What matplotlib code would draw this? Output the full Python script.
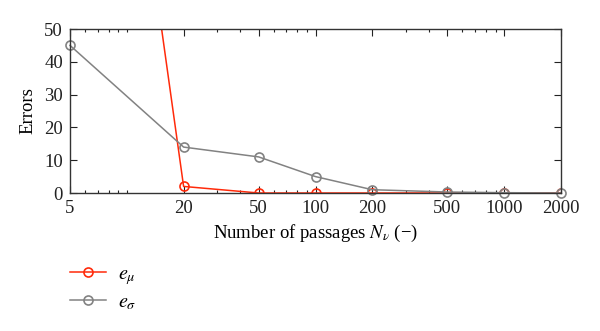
import matplotlib
matplotlib.use("Agg")
import matplotlib.pyplot as plt
from matplotlib.ticker import FixedLocator, FixedFormatter, LogLocator, NullFormatter

plt.rcParams['font.family'] = ['Liberation Serif', 'DejaVu Serif']
plt.rcParams['mathtext.fontset'] = 'stix'

# number of passages and error values
passages = [5, 20, 50, 100, 200, 500, 1000, 2000]
e_mu = [250, 2, 0, 0, 0, 0, 0, 0]
e_sigma = [45, 14, 11, 5, 1, 0.3, 0.1, 0]
xtick_labels = ['5', '20', '50', '100', '200', '500', '1000', '2000']
yticks = [0, 10, 20, 30, 40, 50]

fig = plt.figure(figsize=(6.0, 3.31), dpi=100)
ax = fig.add_axes([70 / 600, 1 - 193 / 331, 491 / 600, 164 / 331])

red = '#ff2a0a'
grey = '#828282'
l1, = ax.plot(passages, e_mu, color=red, lw=1.1, marker='o', ms=6.5,
              mfc='none', mec=red, mew=1.2)
l2, = ax.plot(passages, e_sigma, color=grey, lw=1.1, marker='o', ms=6.5,
              mfc='none', mec=grey, mew=1.2, clip_on=False)

ax.set_xscale('log')
ax.set_xlim(5, 2000)
ax.set_ylim(0, 50)
ax.xaxis.set_major_locator(FixedLocator(passages))
ax.xaxis.set_major_formatter(FixedFormatter(xtick_labels))
ax.xaxis.set_minor_locator(LogLocator(base=10, subs=range(1, 10)))
ax.xaxis.set_minor_formatter(NullFormatter())
ax.set_yticks(yticks)

ax.tick_params(which='both', direction='in', top=True, right=True,
               labelsize=13.5, colors='#222222', pad=5)
ax.tick_params(which='major', length=5, width=0.8)
ax.tick_params(which='minor', length=2.5, width=0.8)
for s in ax.spines.values():
    s.set_color('#333333')
    s.set_linewidth(1.0)

ax.set_xlabel(r'Number of passages $N_\nu$ (−)', fontsize=13.5, labelpad=4)
ax.set_ylabel('Errors', fontsize=13.5, labelpad=6)

fig.legend([l1, l2], [r'$e_\mu$', r'$e_\sigma$'], loc='upper left',
           bbox_to_anchor=(70 / 600, 1 - 265 / 331), frameon=False,
           fontsize=14.5, handlelength=1.8, handletextpad=0.6,
           labelspacing=0.3, borderpad=0, borderaxespad=0)

fig.savefig('out.png', dpi=100)
